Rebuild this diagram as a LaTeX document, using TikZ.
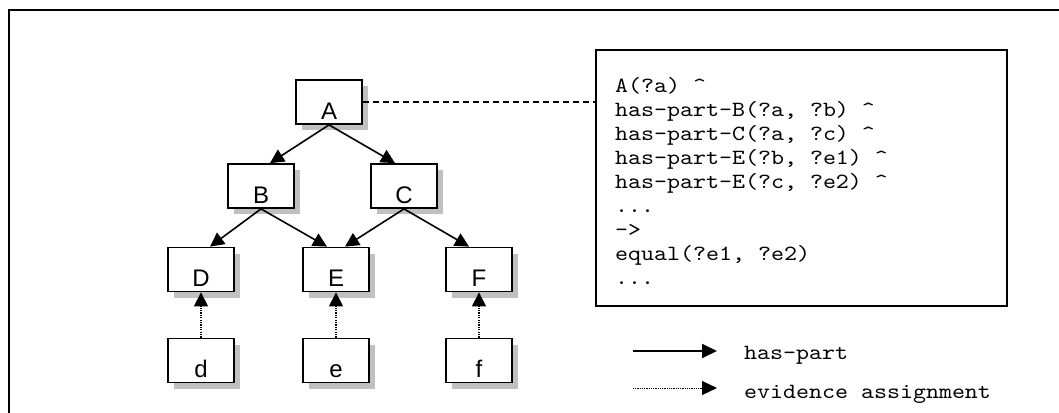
\documentclass[tikz,border=0pt]{standalone}
\usepackage{fontspec}
\setmainfont{Liberation Sans}
\newfontfamily\codefont{lmmono10-regular}[Extension=.otf, FakeStretch=1.14]
\usetikzlibrary{arrows.meta,shadows,calc}
\definecolor{shadowgrey}{HTML}{C0C0C0}
\newcommand\partlabelfont{\fontsize{24pt}{28pt}\selectfont}

\begin{document}
\begin{tikzpicture}[x=1pt,y=-1pt,
  part/.style={draw, line width=1.8pt, fill=white,
    minimum width=66pt, minimum height=44pt, inner sep=0pt,
    text height=34pt, text depth=0pt, font=\partlabelfont,
    general shadow={fill=shadowgrey, shadow xshift=6pt, shadow yshift=-6pt}},
  haspart/.style={line width=1.6pt, -{Triangle[length=14pt,width=14pt]}},
  evidence/.style={line width=1.2pt, dash pattern=on 1.2pt off 1.2pt, -{Triangle[length=14pt,width=14pt]}},
  dashlink/.style={line width=1.3pt, dash pattern=on 6pt off 4pt},
  code/.style={font=\codefont\fontsize{21.7}{24}\selectfont, inner sep=0pt}]

\useasboundingbox (0,0) rectangle (1059,412);

% outer frame
\draw[line width=2pt] (9,416) -- (9,10) -- (1063,10);

% part hierarchy
\node[part] (A) at (329,102) {A};
\node[part] (B) at (261,186) {B};
\node[part] (C) at (404,186) {C};
\node[part] (D) at (201,269.5) {D};
\node[part] (E) at (336,269.5) {E};
\node[part] (F) at (479,269.5) {F};
\node[part] (d) at (201,360.5) {d};
\node[part] (e) at (336,360.5) {e};
\node[part] (f) at (479,360.5) {f};

\draw[haspart] (A.south) -- ($(B.north)+(9,0)$);
\draw[haspart] (A.south) -- ($(C.north)+(-9,0)$);
\draw[haspart] (B.south) -- ($(D.north)+(9,0)$);
\draw[haspart] (B.south) -- ($(E.north)+(-9,0)$);
\draw[haspart] (C.south) -- ($(E.north)+(9,0)$);
\draw[haspart] (C.south) -- ($(F.north)+(-10,0)$);

\draw[evidence] (d.north) -- (D.south);
\draw[evidence] (e.north) -- (E.south);
\draw[evidence] (f.north) -- (F.south);

% rule box
\node[draw, line width=1.8pt, minimum width=411pt, minimum height=256pt, inner sep=0pt] (rule) at (801.5,178) {};
\node[code, anchor=north west, align=left] (ruletext) at (615,75.9)
  {\strut A(?a) \textasciicircum\\
   \strut has-part-B(?a, ?b) \textasciicircum\\
   \strut has-part-C(?a, ?c) \textasciicircum\\
   \strut has-part-E(?b, ?e1) \textasciicircum\\
   \strut has-part-E(?c, ?e2) \textasciicircum\\
   \strut ...\\
   \strut ->\\
   \strut equal(?e1, ?e2)\\
   \strut ...};

\draw[dashlink] (A.east) -- (A.east -| rule.west);

% legend
\coordinate (l1a) at (633,351);
\coordinate (l1b) at (717,351);
\coordinate (l2a) at (633,388);
\coordinate (l2b) at (717,388);
\draw[line width=1.8pt, -{Triangle[length=15pt,width=14pt]}] (l1a) -- (l1b);
\draw[line width=0.9pt, dash pattern=on 0.9pt off 0.9pt, -{Triangle[length=15pt,width=14pt]}] (l2a) -- (l2b);
\node[code, anchor=base west] (lg1) at (744,359) {has-part};
\node[code, anchor=base west] (lg2) at (744,398) {evidence assignment};
\end{tikzpicture}
\end{document}
